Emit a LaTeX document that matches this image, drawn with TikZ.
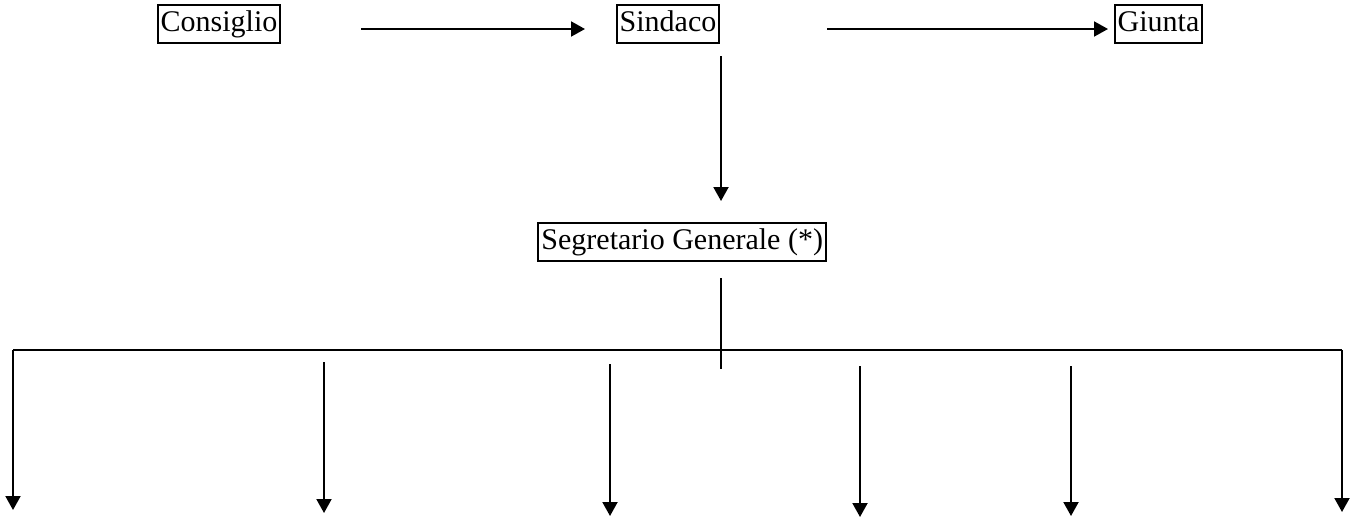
\documentclass[tikz,border=0pt]{standalone}
\usepackage{fontspec}
\setmainfont{Liberation Serif}
\usetikzlibrary{arrows.meta}
\begin{document}
\begin{tikzpicture}[x=1pt,y=-1pt,
  box/.style={draw,line width=2pt,inner xsep=3pt,inner ysep=5pt,
    text height=21.5pt,text depth=6.5pt,font=\fontsize{30}{36}\selectfont},
  arr/.style={line width=2pt,-{Triangle[length=14pt,width=15pt]}},
  ln/.style={line width=2pt}]
\useasboundingbox (0,0) rectangle (1355,517);
\node[box] (cons) at (219,24) {Consiglio};
\node[box] (sind) at (668,24) {Sindaco};
\node[box] (giun) at (1158.5,24) {Giunta};
\node[box,anchor=east] (segr) at (827,241.5) {Segretario Generale (*)};
% top arrows
\coordinate (a1s) at (361,29); \coordinate (a1e) at (585,29);
\coordinate (a2s) at (827,29); \coordinate (a2e) at (1108,29);
\draw[arr] (a1s) -- (a1e);
\draw[arr] (a2s) -- (a2e);
\coordinate (ds) at (721,56); \coordinate (de) at (721,201);
\draw[arr] (ds) -- (de);
\coordinate (gs) at (721,278); \coordinate (ge) at (721,369);
\draw[ln] (gs) -- (ge);
% bar
\coordinate (bl) at (13,350); \coordinate (br) at (1342,350);
\draw[line width=1.6pt] (bl) -- (br);
\coordinate (t1) at (13,510);
\coordinate (s2) at (324,362); \coordinate (t2) at (324,513);
\coordinate (s3) at (610,364); \coordinate (t3) at (610,516);
\coordinate (s4) at (860,366); \coordinate (t4) at (860,517);
\coordinate (s5) at (1071,366); \coordinate (t5) at (1071,516);
\coordinate (t6) at (1342,512);
\draw[arr] (bl) -- (t1);
\draw[arr] (s2) -- (t2);
\draw[arr] (s3) -- (t3);
\draw[arr] (s4) -- (t4);
\draw[arr] (s5) -- (t5);
\draw[arr] (br) -- (t6);
\end{tikzpicture}
\end{document}
